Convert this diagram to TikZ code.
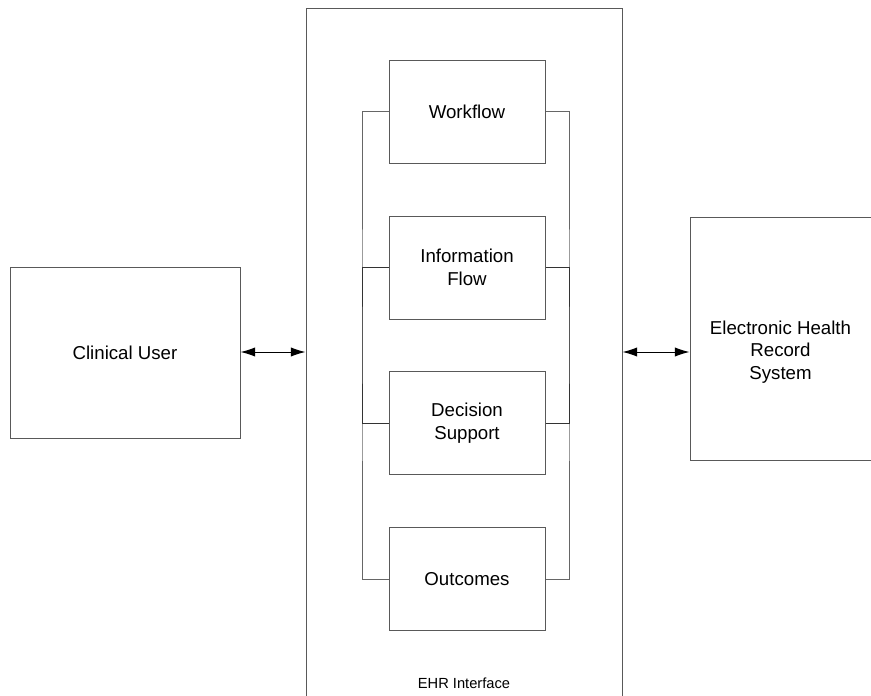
\documentclass[tikz,border=0pt]{standalone}
\usepackage{fontspec}
\setmainfont{Liberation Sans}
\usetikzlibrary{arrows.meta, positioning}

\begin{document}
\begin{tikzpicture}[x=0.75pt, y=-0.75pt,
  box/.style={rectangle, draw=black!65, line width=0.75pt, align=center, font=\fontsize{14}{17}\selectfont},
  part/.style={box, minimum width=156*0.75pt, minimum height=103*0.75pt},
  link/.style={draw=black!60, line width=0.75pt},
  both/.style={{Latex[length=11pt,width=7pt]}-{Latex[length=11pt,width=7pt]}, line width=0.75pt}]
\useasboundingbox (0,0) rectangle (871,696);

% outer blocks
\node[box, minimum width=230*0.75pt, minimum height=171*0.75pt] (user) at (125,352.5) {Clinical User};
\node[box, minimum width=316*0.75pt, minimum height=700*0.75pt] (ehr) at (464,358) {};
\node[font=\fontsize{11}{13}\selectfont] (ehrlabel) at (464,683) {EHR Interface};
\node[box, minimum width=181*0.75pt, minimum height=243*0.75pt] (record) at (780.5,338.5) {};
\node[align=center, font=\fontsize{14}{17}\selectfont] (recordtext) at (780.5,352) {Electronic Health\\Record\\System};

% inner parts
\node[part] (workflow) at (467,111.5) {Workflow};
\node[part] (info) at (467,267.5) {Information\\Flow};
\node[part] (decision) at (467,423) {Decision\\Support};
\node[part] (outcomes) at (467,579) {Outcomes};

% brackets
\draw[link] (workflow.west) -| (362,345) |- (outcomes.west);
\draw[link] (workflow.east) -| (569,345) |- (outcomes.east);
\draw[link, draw=black!80] (info.west) -| (362,345) |- (decision.west);
\draw[link, draw=black!80] (info.east) -| (569,345) |- (decision.east);

% connections
\draw[both] (user.east |- 0,352) -- (ehr.west |- 0,352);
\draw[both] (ehr.east |- 0,352) -- (record.west |- 0,352);
\end{tikzpicture}
\end{document}
